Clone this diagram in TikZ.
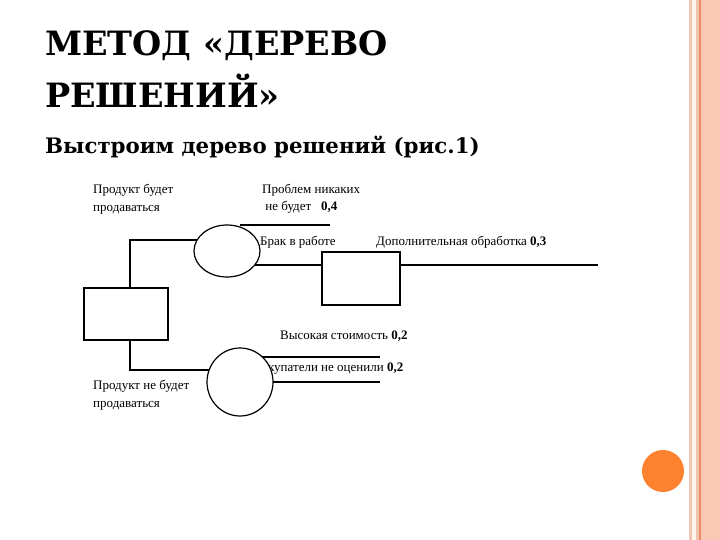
\documentclass[tikz,border=0pt]{standalone}
\usepackage{fontspec}
\setmainfont{Liberation Serif}
\newfontfamily\titlefont{DejaVu Serif}
\definecolor{peachA}{RGB}{240,196,176}
\definecolor{peachB}{RGB}{253,243,232}
\definecolor{peachC}{RGB}{250,200,180}
\definecolor{orangeL}{RGB}{238,140,100}
\definecolor{ballc}{RGB}{252,130,48}
\begin{document}
\begin{tikzpicture}[x=1pt,y=-1pt,
  ln/.style={line width=1.2pt},
  lbl/.style={anchor=west,font=\fontsize{13}{17.5}\selectfont,inner sep=0pt,align=left},
  ttl/.style={anchor=west,inner sep=0pt,font=\titlefont\bfseries},
  bx/.style={draw,line width=1.2pt,fill=white}]
\useasboundingbox (0,0) rectangle (720,540);
\fill[white] (0,0) rectangle (720,540);
% right decorative bar
\fill[peachA] (689,0) rectangle (692,540);
\fill[peachB] (692,0) rectangle (696,540);
\fill[peachA] (696,0) rectangle (699,540);
\fill[orangeL] (699,0) rectangle (701,540);
\fill[peachC] (701,0) rectangle (720,540);
\fill[ballc] (663,471) circle (21);
% titles
\node[ttl,font=\titlefont\bfseries\fontsize{33.5}{36}\selectfont] (t1) at (45,46) {МЕТОД «ДЕРЕВО};
\node[ttl,font=\titlefont\bfseries\fontsize{33.5}{36}\selectfont] (t2) at (45,91) {РЕШЕНИЙ»};
\node[ttl,font=\titlefont\bfseries\fontsize{21.3}{24}\selectfont] (t3) at (45,147) {Выстроим дерево решений (рис.1)};
% labels
\node[lbl] (a1) at (93,199) {Продукт будет\\продаваться};
\node[lbl] (a2) at (262,199) {Проблем никаких\\\ не будет \ \ \textbf{0,4}};
\node[lbl] (a3) at (260,242) {Брак в работе};
\node[lbl] (a4) at (376,242) {Дополнительная обработка \textbf{0,3}};
\node[lbl] (a5) at (280,336) {Высокая стоимость \textbf{0,2}};
\node[lbl] (a6) at (252,369) {Покупатели не оценили \textbf{0,2}};
\node[lbl] (a7) at (93,395) {Продукт не будет\\продаваться};
% coordinates
\coordinate (j1) at (130,240);
\coordinate (j2) at (130,370);
\coordinate (e1) at (330,225);
\coordinate (e2) at (598,265);
\coordinate (e3) at (380,357);
\coordinate (e4) at (380,382);
% lines
\draw[ln] (130,288) -- (j1) -- (205,240);
\draw[ln] (130,340) -- (j2) -- (210,370);
\draw[ln] (240,225) -- (e1);
\draw[ln] (250,265) -- (323,265);
\draw[ln] (400,265) -- (e2);
\draw[ln] (250,357) -- (e3);
\draw[ln] (250,382) -- (e4);
% shapes
\node[bx,minimum width=84,minimum height=52] (root) at (126,314) {};
\node[bx,minimum width=78,minimum height=53] (b2) at (361,278.5) {};
\draw[line width=1.2pt,fill=white] (227,251) ellipse (33 and 26);
\node (c1) at (227,251) {};
\draw[line width=1.2pt,fill=white] (240,382) ellipse (33 and 34);
\node (c2) at (240,382) {};
\end{tikzpicture}
\end{document}
